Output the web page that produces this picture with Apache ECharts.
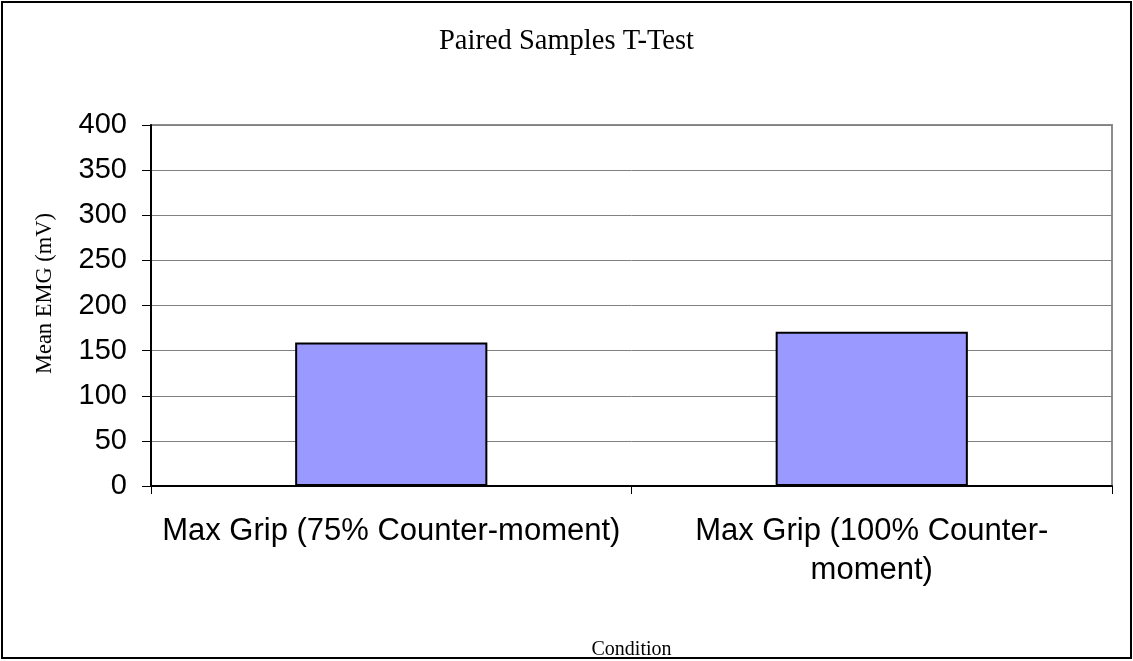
<!DOCTYPE html>
<html>
<head>
<meta charset="utf-8">
<title>Paired Samples T-Test</title>
<script src="https://cdn.jsdelivr.net/npm/echarts@6/dist/echarts.min.js"></script>
<style>
  html, body { margin: 0; padding: 0; background: #fff; }
  #chart { width: 1133px; height: 661px; }
</style>
</head>
<body>
<div id="chart"></div>
<script>
// t-test chart data
var conditions = ['Max Grip (75% Counter-moment)', 'Max Grip (100% Counter-moment)'];
var meanEmg = [159, 171];
var yTicks = [0, 50, 100, 150, 200, 250, 300, 350, 400];

var chart = echarts.init(document.getElementById('chart'));
chart.setOption({
    animation: false,
    title: {
        text: 'Paired Samples T-Test',
        left: 'center',
        top: 22,
        textStyle: {
            fontFamily: 'Liberation Serif, Times New Roman, serif',
            fontSize: 28.5,
            fontWeight: 'normal',
            color: '#000'
        }
    },
    graphic: [{
        type: 'rect',
        shape: { x: 2, y: 2, width: 1129, height: 656 },
        style: { fill: 'none', stroke: '#000', lineWidth: 2 },
        silent: true
    }],
    grid: {
        left: 151,
        right: 21,
        top: 125,
        bottom: 175,
        outerBoundsMode: 'none',
        containLabel: false,
        show: true,
        borderColor: '#8c8c8c',
        borderWidth: 2
    },
    xAxis: {
        type: 'category',
        data: conditions,
        name: 'Condition',
        nameLocation: 'middle',
        nameGap: 154,
        nameTextStyle: {
            fontFamily: 'Liberation Serif, Times New Roman, serif',
            fontSize: 20,
            color: '#000'
        },
        axisLine: { lineStyle: { color: '#000', width: 2 } },
        axisTick: { show: true, length: 8, lineStyle: { color: '#000' } },
        axisLabel: {
            interval: 0,
            margin: 26,
            fontFamily: 'Liberation Sans, Arial, sans-serif',
            fontSize: 31,
            lineHeight: 39,
            color: '#000',
            formatter: function (v, i) {
                return i === 1 ? v.replace('Counter-', 'Counter-\n') : v;
            }
        }
    },
    yAxis: {
        type: 'value',
        min: yTicks[0],
        max: yTicks[yTicks.length - 1],
        interval: yTicks[1] - yTicks[0],
        name: 'Mean EMG (mV)',
        nameLocation: 'middle',
        nameRotate: 90,
        nameGap: 94,
        nameTextStyle: {
            fontFamily: 'Liberation Serif, Times New Roman, serif',
            fontSize: 22.5,
            color: '#000',
            padding: [0, 0, 0, 24]
        },
        axisLine: { show: true, lineStyle: { color: '#000', width: 2 } },
        axisTick: { show: true, length: 9, lineStyle: { color: '#000' } },
        axisLabel: {
            margin: 24,
            fontFamily: 'Liberation Sans, Arial, sans-serif',
            fontSize: 29,
            color: '#000'
        },
        splitLine: { lineStyle: { color: '#808080', width: 1 } }
    },
    series: [{
        type: 'bar',
        data: meanEmg,
        barWidth: '40%',
        itemStyle: {
            color: '#9999FF',
            borderColor: '#000',
            borderWidth: 2
        }
    }]
});
</script>
</body>
</html>
